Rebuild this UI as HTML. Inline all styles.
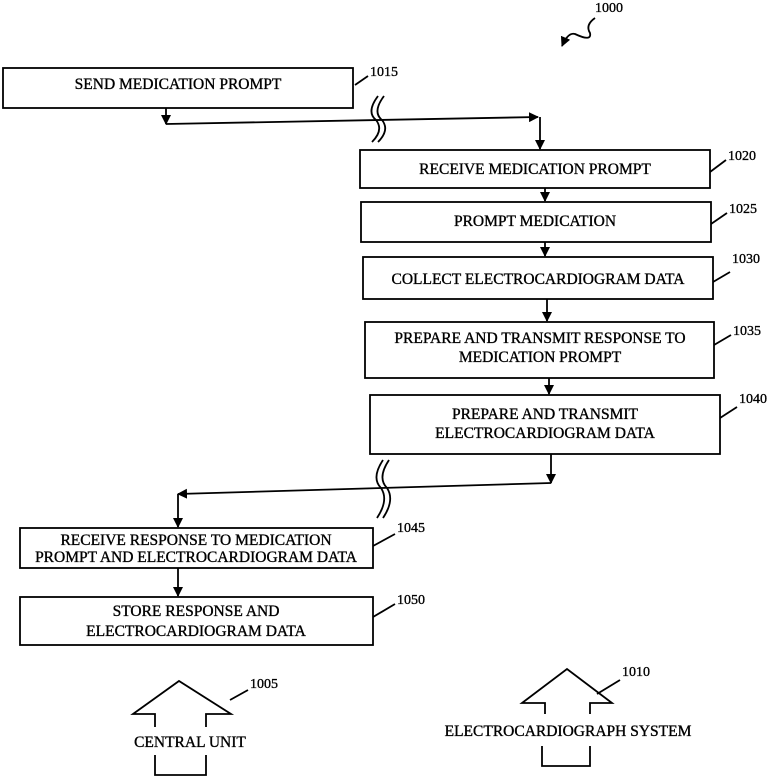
<!DOCTYPE html>
<html><head><meta charset="utf-8"><style>
html,body{margin:0;padding:0;background:#fff;}
svg{display:block;}
text{font-family:"Liberation Serif",serif;font-size:15.5px;fill:#000;stroke:#000;stroke-width:0.35;text-anchor:middle;}
.n{text-anchor:start;font-size:14px;}
</style></head><body>
<svg width="775" height="778" viewBox="0 0 775 778" xmlns="http://www.w3.org/2000/svg">
<defs><marker id="a" markerWidth="10" markerHeight="10" refX="9" refY="5" orient="auto" markerUnits="userSpaceOnUse"><path d="M0,0 L10,5 L0,10 Z" fill="#000"/></marker></defs>
<g fill="none" stroke="#000" stroke-width="1.8">
<rect x="3" y="68" width="350" height="40"/>
<rect x="360" y="150" width="350" height="38"/>
<rect x="361" y="202" width="350" height="40"/>
<rect x="363" y="257" width="350" height="42"/>
<rect x="365" y="322" width="349" height="56"/>
<rect x="370" y="395" width="350" height="59"/>
<rect x="20" y="528" width="353" height="40"/>
<rect x="20" y="597" width="353" height="48"/>
<path d="M166 108 V124" marker-end="url(#a)"/>
<path d="M166 124 L538 117" marker-end="url(#a)"/>
<path d="M540 117 V149" marker-end="url(#a)"/>
<path d="M545 188 V201" marker-end="url(#a)"/>
<path d="M545 242 V256" marker-end="url(#a)"/>
<path d="M547 299 V321" marker-end="url(#a)"/>
<path d="M549 378 V394" marker-end="url(#a)"/>
<path d="M551 454 V483" marker-end="url(#a)"/>
<path d="M551 483 L178 494" marker-end="url(#a)"/>
<path d="M178 494 V527" marker-end="url(#a)"/>
<path d="M178 568 V596" marker-end="url(#a)"/>
<path d="M378 96 Q366 112 376 120 Q384 130 372 142"/>
<path d="M384 96 Q372 112 382 120 Q390 130 378 142"/>
<path d="M383 460 Q371 478 381 488 Q389 500 377 518"/>
<path d="M389 460 Q377 478 387 488 Q395 500 383 518"/>
<path d="M355 85 L368 76"/><path d="M710 172 L726 160"/><path d="M711 224 L727 213"/>
<path d="M713 282 L730 272"/><path d="M714 345 L731 335"/><path d="M720 418 L737 407"/>
<path d="M373 546 L395 534"/><path d="M373 617 L395 604"/>
<path d="M230 700 L248 690"/><path d="M597 694 L620 680"/>
<path d="M595 18 Q585 25 590 33 Q592 42 575 34 Q568 32 562 46" marker-end="url(#a)"/>
<path d="M155 727 V714 H133 L179 681 L231 714 H206 V727"/>
<path d="M155 755 V775 H206 V755"/>
<path d="M545 714 V703 H522 L567 669 L612 703 H590 V714"/>
<path d="M542 746 V766 H590 V746"/>
</g>
<text x="178" y="89">SEND MEDICATION PROMPT</text>
<text x="535" y="174">RECEIVE MEDICATION PROMPT</text>
<text x="535" y="226">PROMPT MEDICATION</text>
<text x="538" y="284">COLLECT ELECTROCARDIOGRAM DATA</text>
<text x="540" y="343">PREPARE AND TRANSMIT RESPONSE TO</text>
<text x="540" y="362">MEDICATION PROMPT</text>
<text x="545" y="419">PREPARE AND TRANSMIT</text>
<text x="545" y="438">ELECTROCARDIOGRAM DATA</text>
<text x="196" y="545">RECEIVE RESPONSE TO MEDICATION</text>
<text x="196" y="562">PROMPT AND ELECTROCARDIOGRAM DATA</text>
<text x="196" y="616">STORE RESPONSE AND</text>
<text x="196" y="636">ELECTROCARDIOGRAM DATA</text>
<text x="190" y="747">CENTRAL UNIT</text>
<text x="568" y="736">ELECTROCARDIOGRAPH SYSTEM</text>
<text class="n" x="595" y="12">1000</text>
<text class="n" x="370" y="76">1015</text>
<text class="n" x="728" y="160">1020</text>
<text class="n" x="729" y="213">1025</text>
<text class="n" x="732" y="263">1030</text>
<text class="n" x="733" y="335">1035</text>
<text class="n" x="739" y="403">1040</text>
<text class="n" x="397" y="532">1045</text>
<text class="n" x="397" y="604">1050</text>
<text class="n" x="250" y="688">1005</text>
<text class="n" x="622" y="676">1010</text>
</svg>
</body></html>
